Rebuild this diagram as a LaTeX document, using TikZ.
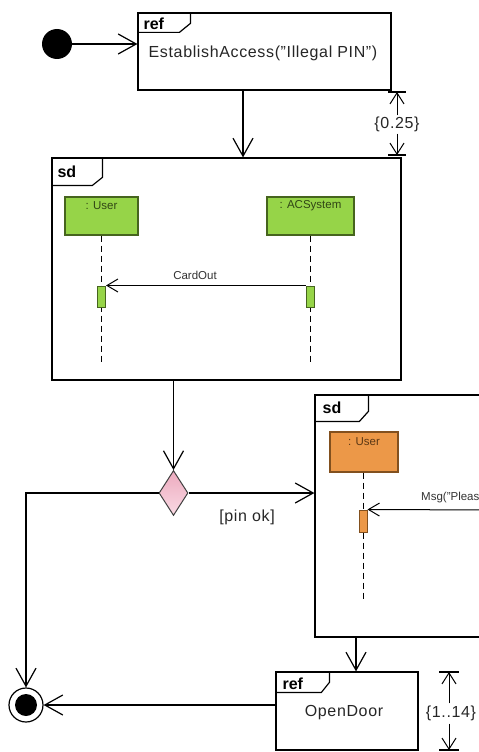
\documentclass[tikz,border=0pt]{standalone}
\usepackage{fontspec}
\setmainfont{Liberation Sans}
\usetikzlibrary{arrows.meta,shapes.geometric,calc}
\definecolor{lgreen}{RGB}{150,212,72}
\definecolor{dgreen}{RGB}{70,100,30}
\definecolor{lorange}{RGB}{236,152,72}
\definecolor{dorange}{RGB}{130,80,30}
\definecolor{dpink}{RGB}{236,170,190}
\definecolor{lpink}{RGB}{250,218,228}
\begin{document}
\begin{tikzpicture}[x=1pt,y=-1pt,
  frame/.style={draw, line width=1.2pt, rectangle, inner sep=0pt, fill=white},
  tagline/.style={draw, line width=1.2pt},
  conn/.style={draw, line width=1.2pt, -{Straight Barb[length=18pt,width=20pt,line width=1.2pt]}},
  msg/.style={draw, line width=1pt, -{Straight Barb[length=11pt,width=13pt,line width=1pt]}},
  dur/.style={draw, line width=1pt, -{Straight Barb[length=11pt,width=14pt,line width=1pt]}},
  tick/.style={draw, line width=1.2pt},
  life/.style={draw, line width=1pt, dash pattern=on 6pt off 4pt},
  txt/.style={font=\fontsize{16}{18}\selectfont\addfontfeature{LetterSpace=4}, inner sep=0pt, text=black!85},
  small/.style={font=\fontsize{11.5}{13}\selectfont, inner sep=0pt},
  tagtxt/.style={font=\fontsize{16}{18}\selectfont\bfseries, inner sep=0pt, anchor=west},
  gbox/.style={draw=dgreen, fill=lgreen, line width=1.2pt, rectangle, inner sep=0pt},
  obox/.style={draw=dorange, fill=lorange, line width=1.2pt, rectangle, inner sep=0pt},
  gact/.style={draw=dgreen, fill=lgreen, line width=1pt, rectangle, inner sep=0pt, minimum width=8pt},
  oact/.style={draw=dorange, fill=lorange, line width=1pt, rectangle, inner sep=0pt, minimum width=8pt}
]
\path[use as bounding box] (0,0) rectangle (479,752);
\clip (0,0) rectangle (479,752);

% initial node
\node[circle, fill=black, minimum size=30pt, inner sep=0pt] (init) at (57,44) {};

% ref 1
\node[frame, minimum width=253pt, minimum height=77pt] (ref1) at (264.5,51.5) {};
\node[txt] (ref1text) at (263,53) {EstablishAccess("Illegal PIN")};
\draw[tagline, shift={(ref1.north west)}] (0,20) -- (42,20) -- (53,11) -- (53,0);
\node[tagtxt] (ref1tag) at ($(ref1.north west)+(6,11)$) {ref};

% sd 1
\node[frame, minimum width=349pt, minimum height=222pt] (sd1) at (226.5,269) {};
\draw[tagline, shift={(sd1.north west)}] (0,28) -- (41,28) -- (51,20) -- (51,0);
\node[tagtxt] (sd1tag) at ($(sd1.north west)+(6,14)$) {sd};

\node[gbox, minimum width=73pt, minimum height=38pt] (user1) at (101.5,216) {};
\node[small, text=dgreen!70!black] (user1t) at (101.5,206) {: User};
\node[gbox, minimum width=87pt, minimum height=38pt] (acs) at (310.5,216) {};
\node[small, text=dgreen!70!black] (acst) at (310.5,206) {: ACSystem};
\coordinate (l1end) at (101.5,363);
\coordinate (l2end) at (310,363);
\draw[life] (user1.south -| l1end) -- (l1end);
\draw[life] (acs.south -| l2end) -- (l2end);
\node[gact, minimum height=21pt] (act1) at (101.5,296.5) {};
\node[gact, minimum height=21pt] (act2) at (310,296.5) {};
\draw[msg] (act2.north west) -- (act1.north east);
\node[small, text=black!80] (cardout) at (195,275) {CardOut};

% ref1 -> sd1
\coordinate (r1o) at ($(ref1.south)+(-21.5,0)$);
\draw[conn] (r1o) -- (r1o |- sd1.north);

% duration 0.25
\coordinate (d1top) at (397,92);
\coordinate (d1bot) at (397,155);
\draw[tick] ($(d1top)+(-9,0)$) -- ($(d1top)+(9,0)$);
\draw[tick] ($(d1bot)+(-9,0)$) -- ($(d1bot)+(9,0)$);
\node[txt] (d1txt) at (397,124) {\{0.25\}};
\draw[dur] (d1txt.north) ++(0,-1) -- (d1top);
\draw[dur] (d1txt.south) ++(0,2) -- (d1bot);

% decision
\node[diamond, draw=black!75, line width=1pt, minimum width=29pt, minimum height=45pt, inner sep=0pt,
      top color=dpink, bottom color=lpink] (dec) at (173.5,493) {};
\draw[conn] (sd1.south -| dec.north) -- (dec.north);

% sd 2
\node[frame, minimum width=245pt, minimum height=242pt] (sd2) at (437.5,516) {};
\draw[tagline, shift={(sd2.north west)}] (0,27) -- (45,27) -- (54,17) -- (54,0);
\node[tagtxt] (sd2tag) at ($(sd2.north west)+(8,13)$) {sd};
\node[obox, minimum width=68pt, minimum height=40pt] (user2) at (364,452) {};
\node[small, text=dorange!70!black] (user2t) at (364,442) {: User};
\coordinate (l3end) at (363,600);
\draw[life] (user2.south -| l3end) -- (l3end);
\node[oact, minimum height=22pt] (act3) at (363,521) {};
\coordinate (msgsrc) at (495,510);
\draw[msg] (msgsrc) -- (act3.north east);
\node[small, anchor=west, text=black!80] (msgt) at (421,498) {Msg("Please enter PIN")};

\draw[conn] (dec.east) -- (dec.east -| sd2.west);
\node[txt] (pinok) at (247,517) {[pin ok]};

% final node
\node[circle, draw, line width=1.2pt, minimum size=34pt, inner sep=0pt] (final) at (26,705) {};
\node[circle, fill=black, minimum size=22pt, inner sep=0pt] (finalin) at (final.center) {};
\draw[conn] (dec.west) -| (final.north);

% ref 2
\node[frame, minimum width=142pt, minimum height=78pt] (ref2) at (347,711) {};
\node[txt] (ref2text) at (344,713) {OpenDoor};
\draw[tagline, shift={(ref2.north west)}] (0,21) -- (46,21) -- (54,11) -- (54,0);
\node[tagtxt] (ref2tag) at ($(ref2.north west)+(7,12)$) {ref};
\coordinate (s2o) at ($(ref2.north)+(9,0)$);
\draw[conn] (s2o |- sd2.south) -- (s2o);
\draw[conn] (ref2.west |- final.east) -- (final.east);

% duration 1..14
\coordinate (d2top) at (449,672);
\coordinate (d2bot) at (449,750);
\draw[tick] ($(d2top)+(-10,0)$) -- ($(d2top)+(10,0)$);
\draw[tick] ($(d2bot)+(-10,0)$) -- ($(d2bot)+(10,0)$);
\node[txt] (d2txt) at (451,713) {\{1..14\}};
\draw[dur] (d2txt.north -| d2top) ++(0,-2) -- (d2top);
\draw[dur] (d2txt.south -| d2bot) ++(0,3) -- (d2bot);

% init -> ref1
\draw[conn] (init.east) -- (init.east -| ref1.west);
\end{tikzpicture}
\end{document}
